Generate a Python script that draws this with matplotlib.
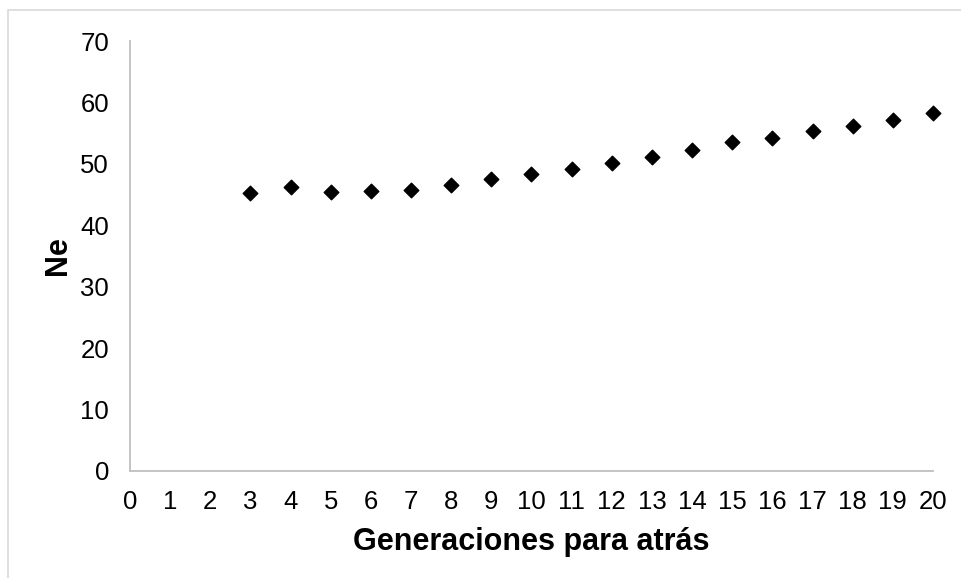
import matplotlib.pyplot as plt
from matplotlib.patches import Rectangle

# Datos
generaciones = [3, 4, 5, 6, 7, 8, 9, 10, 11, 12, 13, 14, 15, 16, 17, 18, 19, 20]
ne = [45.3, 46.3, 45.4, 45.6, 45.8, 46.5, 47.5, 48.4, 49.2, 50.2,
      51.1, 52.2, 53.5, 54.2, 55.3, 56.1, 57.2, 58.3]

x_ticks = list(range(0, 21))
y_ticks = list(range(0, 71, 10))

plt.rcParams['font.family'] = ['Liberation Sans', 'DejaVu Sans']

W, H = 962, 578
fig = plt.figure(figsize=(W / 100, H / 100), dpi=100)

# marco gris claro del area del grafico
fig.patches.append(Rectangle((8 / W, -0.05), 1.1, 1.05 - 10 / H, transform=fig.transFigure,
                             fill=False, edgecolor='#D9D9D9', linewidth=1.2))

ax = fig.add_axes([130 / W, 1 - 471 / H, (933 - 130) / W, (471 - 41) / H])
ax.scatter(generaciones, ne, marker='D', s=55, color='black', zorder=3, clip_on=False)

ax.set_xlim(0, 20)
ax.set_ylim(0, 70)
ax.set_xticks(x_ticks)
ax.set_yticks(y_ticks)
ax.tick_params(axis='both', length=0, labelsize=18.5)
ax.tick_params(axis='x', pad=14)
ax.tick_params(axis='y', pad=15)

for side in ['top', 'right']:
    ax.spines[side].set_visible(False)
for side in ['left', 'bottom']:
    ax.spines[side].set_color('#BFBFBF')
    ax.spines[side].set_linewidth(1.3)

ax.set_xlabel('Generaciones para atrás', fontsize=22, fontweight='bold', labelpad=9)
ax.set_ylabel('Ne', fontsize=22, fontweight='bold', labelpad=5)

fig.savefig('out.png', dpi=100)
